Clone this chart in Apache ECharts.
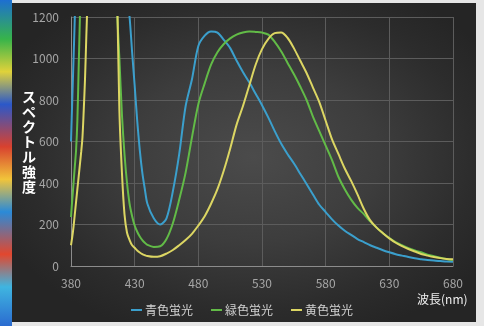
<!DOCTYPE html>
<html>
<head>
<meta charset="utf-8">
<script src="https://cdn.jsdelivr.net/npm/echarts@6/dist/echarts.min.js"></script>
<style>
  html, body { margin: 0; padding: 0; }
  body { width: 484px; height: 326px; position: relative; overflow: hidden; background: #e6e6e6; }
  #edge { position: absolute; left: 0; top: 0; width: 12px; height: 326px;
    background: linear-gradient(180deg, #1d6fd1 0%, #37b44a 12%, #e0d23a 22%, #2b58c9 32%, #d8412f 45%, #f1c43a 55%, #2a8ad8 65%, #e2472e 78%, #3fb5e0 88%, #2b6bd0 100%); }
  #panel { position: absolute; left: 12px; top: 3px; width: 464px; height: 319px;
    background: radial-gradient(ellipse 60% 60% at 52% 48%, #4b4b4b 0%, #3d3d3d 45%, #2c2c2c 80%, #252525 100%); }
  #chart { position: absolute; left: 0; top: 0; width: 484px; height: 326px; }
</style>
</head>
<body>
<div id="edge"></div>
<div id="panel"></div>
<div id="chart"></div>
<script>
// Wavelength samples (nm)
const wavelengths = [
  380, 381, 382, 383, 384, 385, 386, 387, 388, 389, 390, 391, 392, 393, 394, 395,
  400, 405, 410, 412, 414, 416, 418, 420, 422, 424, 426, 428, 430, 432, 434, 436, 438, 440,
  445, 450, 455, 460, 465, 470, 475, 480, 485, 490, 495, 500, 505, 510, 515, 520, 525, 530,
  535, 540, 545, 550, 555, 560, 565, 570, 575, 580, 585, 590, 595, 600, 605, 610, 615, 620,
  625, 630, 635, 640, 645, 650, 655, 660, 665, 670, 675, 680
];

// Spectral intensity per phosphor
const blueSpectrum = [
  600, 800, 1000, 1200, 1450, 1700, 2000, 2300, 2500, 2600, 2700, 2800, 2900, 3000, 3000, 3000,
  3000, 3000, 3000, 2800, 2500, 2100, 1800, 1600, 1420, 1300, 1200, 1030, 870, 700, 560, 450, 370, 300,
  230, 200, 230, 360, 540, 770, 900, 1060, 1110, 1130, 1125, 1090, 1050, 990, 935, 885, 830, 775,
  715, 650, 590, 540, 495, 445, 395, 345, 295, 260, 225, 195, 170, 150, 130, 115, 100, 88,
  76, 66, 57, 50, 43, 37, 33, 29, 26, 24, 22, 21
];
const greenSpectrum = [
  236, 320, 400, 480, 560, 700, 950, 1200, 1500, 1800, 2100, 2400, 2600, 2800, 3000, 3000,
  3000, 3000, 3000, 2000, 1600, 1250, 1000, 730, 540, 400, 300, 240, 195, 165, 142, 125, 112, 102,
  92, 95, 130, 206, 320, 450, 620, 780, 880, 970, 1030, 1070, 1097, 1115, 1125, 1130, 1128, 1125,
  1115, 1080, 1035, 980, 925, 865, 800, 720, 650, 580, 510, 430, 370, 320, 280, 250, 215, 185,
  158, 135, 115, 100, 86, 75, 66, 55, 47, 40, 34, 29
];
const yellowSpectrum = [
  100, 140, 190, 250, 310, 370, 430, 490, 550, 620, 750, 900, 1100, 1300, 1600, 2000,
  3000, 3000, 3000, 2600, 2000, 1400, 750, 450, 250, 160, 125, 100, 88, 75, 65, 57, 52, 48,
  44, 47, 60, 77, 100, 125, 155, 195, 240, 300, 370, 460, 565, 680, 770, 870, 970, 1045,
  1095, 1122, 1125, 1100, 1050, 990, 930, 860, 790, 700, 610, 540, 470, 410, 345, 275, 220, 185,
  158, 133, 112, 96, 82, 70, 58, 50, 43, 38, 34, 32
];

const seriesNames = ['青色蛍光', '緑色蛍光', '黄色蛍光'];
const seriesColors = ['#3b9fcc', '#62bb47', '#dcd663'];
const xTicks = [380, 430, 480, 530, 580, 630, 680];
const yTicks = [0, 200, 400, 600, 800, 1000, 1200];
const yAxisTitle = 'スペクトル強度';
const xAxisTitle = '波長(nm)';

const toPairs = arr => wavelengths.map((w, i) => [w, arr[i]]);
const spectra = [blueSpectrum, greenSpectrum, yellowSpectrum];

const font = '"Noto Sans CJK JP", "Noto Sans", sans-serif';

const chart = echarts.init(document.getElementById('chart'), null, { renderer: 'canvas' });
chart.setOption({
  backgroundColor: 'transparent',
  animation: false,
  grid: { left: 71, right: 31, top: 17, bottom: 60, containLabel: false },
  xAxis: {
    type: 'value',
    min: xTicks[0], max: xTicks[xTicks.length - 1], interval: 50,
    axisLine: { show: true, lineStyle: { color: '#8c8c8c', width: 1 } },
    axisTick: { show: false },
    splitLine: { show: true, lineStyle: { color: '#5c5c5c', width: 1 } },
    axisLabel: { color: '#a6a6a6', fontSize: 12, fontFamily: font, margin: 11,
      formatter: v => String(v) }
  },
  yAxis: {
    type: 'value',
    min: yTicks[0], max: yTicks[yTicks.length - 1], interval: 200,
    axisLine: { show: true, lineStyle: { color: '#8c8c8c', width: 1 } },
    axisTick: { show: false },
    splitLine: { show: true, lineStyle: { color: '#5c5c5c', width: 1 } },
    axisLabel: { color: '#a6a6a6', fontSize: 12, fontFamily: font, margin: 12,
      formatter: v => String(v) }
  },
  legend: {
    data: seriesNames,
    bottom: 5, left: 'center',
    icon: 'rect', itemWidth: 11, itemHeight: 2, itemGap: 18,
    textStyle: { color: '#d0d0d0', fontSize: 12, fontFamily: font, padding: [0, 0, 0, -2] }
  },
  graphic: [
    {
      type: 'text', left: 22, top: 89,
      style: {
        text: yAxisTitle.split('').join('\n'),
        fill: '#ffffff', font: 'bold 14px ' + font, lineHeight: 15
      }
    },
    {
      type: 'text', left: 417, top: 293,
      style: { text: xAxisTitle, fill: '#eeeeee', font: '12px ' + font }
    }
  ],
  series: seriesNames.map((name, i) => ({
    name, type: 'line',
    data: toPairs(spectra[i]),
    smooth: 0.3, showSymbol: false, clip: true,
    lineStyle: { color: seriesColors[i], width: 2 },
    itemStyle: { color: seriesColors[i] }
  }))
});
</script>
</body>
</html>
